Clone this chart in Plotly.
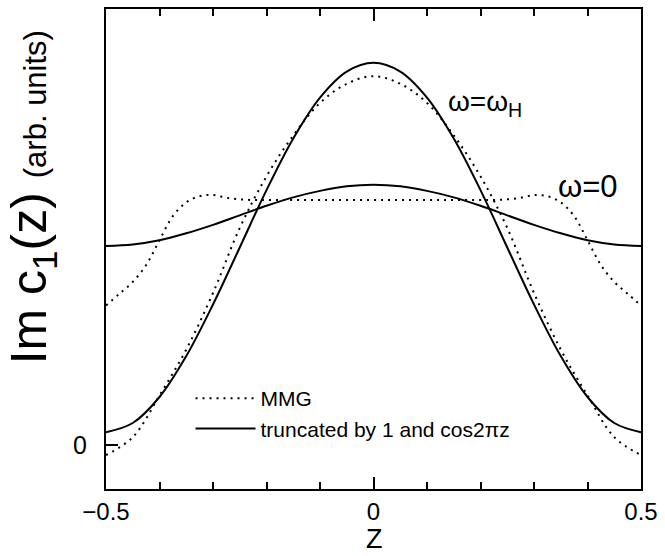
import plotly.graph_objects as go

# z grid for the main curves
z = [-0.5, -0.45, -0.4, -0.35, -0.3, -0.25, -0.2, -0.15, -0.1, -0.05, 0.0,
     0.05, 0.1, 0.15, 0.2, 0.25, 0.3, 0.35, 0.4, 0.45, 0.5]

# truncated (solid) curves
trunc_wH = [0.034, 0.058, 0.126, 0.233, 0.368, 0.517, 0.667, 0.802, 0.909, 0.977, 1.000,
            0.977, 0.909, 0.802, 0.667, 0.517, 0.368, 0.233, 0.126, 0.058, 0.034]
trunc_w0 = [0.521, 0.525, 0.536, 0.554, 0.576, 0.601, 0.626, 0.648, 0.665, 0.677, 0.681,
            0.677, 0.665, 0.648, 0.626, 0.601, 0.576, 0.554, 0.536, 0.525, 0.521]

# MMG (dotted) curves
mmg_wH = [-0.026, 0.021, 0.130, 0.250, 0.398, 0.568, 0.703, 0.810, 0.895, 0.945, 0.965,
          0.945, 0.895, 0.810, 0.703, 0.568, 0.398, 0.250, 0.130, 0.021, -0.026]

z_fine = [-0.5, -0.475, -0.45, -0.425, -0.4, -0.375, -0.35, -0.325, -0.3, -0.275, -0.25,
          -0.225, -0.2, -0.15, -0.1, -0.05, 0.0, 0.05, 0.1, 0.15, 0.2, 0.225, 0.25,
          0.275, 0.3, 0.325, 0.35, 0.375, 0.4, 0.425, 0.45, 0.475, 0.5]
mmg_w0 = [0.365, 0.396, 0.427, 0.471, 0.536, 0.599, 0.635, 0.651, 0.654, 0.647, 0.643,
          0.641, 0.641, 0.641, 0.641, 0.641, 0.641, 0.641, 0.641, 0.641, 0.641, 0.641, 0.643,
          0.647, 0.654, 0.651, 0.635, 0.599, 0.536, 0.471, 0.427, 0.396, 0.365]

x_tickvals = [-0.5, 0, 0.5]
x_ticktext = ["\u22120.5", "0", "0.5"]
y_tickvals = [0]
y_ticktext = ["0"]

FONT = "Liberation Sans, Arial, sans-serif"
dot_style = dict(color="black", width=2, dash="2px,5px")
solid_style = dict(color="black", width=2)

fig = go.Figure()
fig.add_trace(go.Scatter(x=z, y=mmg_wH, mode="lines", line=dict(**dot_style, shape="spline"),
                         name="MMG", showlegend=True))
fig.add_trace(go.Scatter(x=z_fine, y=mmg_w0, mode="lines", line=dict(**dot_style, shape="spline"),
                         name="MMG", showlegend=False))
fig.add_trace(go.Scatter(x=z, y=trunc_wH, mode="lines", line=dict(**solid_style, shape="spline"),
                         name="truncated by 1 and cos2\u03c0z", showlegend=True))
fig.add_trace(go.Scatter(x=z, y=trunc_w0, mode="lines", line=dict(**solid_style, shape="spline"),
                         name="truncated", showlegend=False))

fig.update_layout(
    width=665, height=556,
    margin=dict(l=106, r=22, t=7, b=67),
    paper_bgcolor="white", plot_bgcolor="white",
    font=dict(family=FONT, color="black"),
    legend=dict(x=0.158, y=0.231, xanchor="left", yanchor="top",
                bgcolor="rgba(0,0,0,0)", font=dict(size=21), itemwidth=60,
                tracegroupgap=0),
    xaxis=dict(range=[-0.5, 0.5], tickvals=x_tickvals, ticktext=x_ticktext,
               ticks="inside", ticklen=12, tickwidth=2, tickcolor="black",
               minor=dict(dtick=0.1, ticks="inside", ticklen=7, tickwidth=2, tickcolor="black",
                          showgrid=False),
               showline=True, linecolor="black", linewidth=2, mirror="ticks",
               showgrid=False, zeroline=False, tickfont=dict(size=24),
               ticklabelstandoff=0),
    yaxis=dict(range=[-0.1146, 1.1406], tickvals=y_tickvals, ticktext=y_ticktext,
               ticks="inside", ticklen=12, tickwidth=2, tickcolor="black",
               showline=True, linecolor="black", linewidth=2, mirror=True,
               showgrid=False, zeroline=False, tickfont=dict(size=25),
               ticklabelstandoff=12),
    annotations=[
        dict(xref="paper", yref="paper", x=-0.138, y=0.608, xanchor="center", yanchor="middle",
             textangle=-90, showarrow=False,
             text="Im c<sub>1</sub>(z) <span style='font-size:31px'>(arb. units)</span>",
             font=dict(size=50, family=FONT)),
        dict(xref="paper", yref="paper", x=0.501, y=-0.139, xanchor="center", yanchor="bottom",
             showarrow=False, text="Z", font=dict(size=27, family=FONT)),
        dict(xref="paper", yref="paper", x=(447 - 106) / 537, y=(489 - 102) / 482,
             xanchor="left", yanchor="middle", showarrow=False,
             text="\u03c9=\u03c9<sub>H</sub>", font=dict(size=28, family=FONT)),
        dict(xref="paper", yref="paper", x=(558 - 106) / 537, y=(489 - 185) / 482,
             xanchor="left", yanchor="middle", showarrow=False,
             text="\u03c9=0", font=dict(size=31, family=FONT)),
    ],
)

fig.write_html("out.html")
